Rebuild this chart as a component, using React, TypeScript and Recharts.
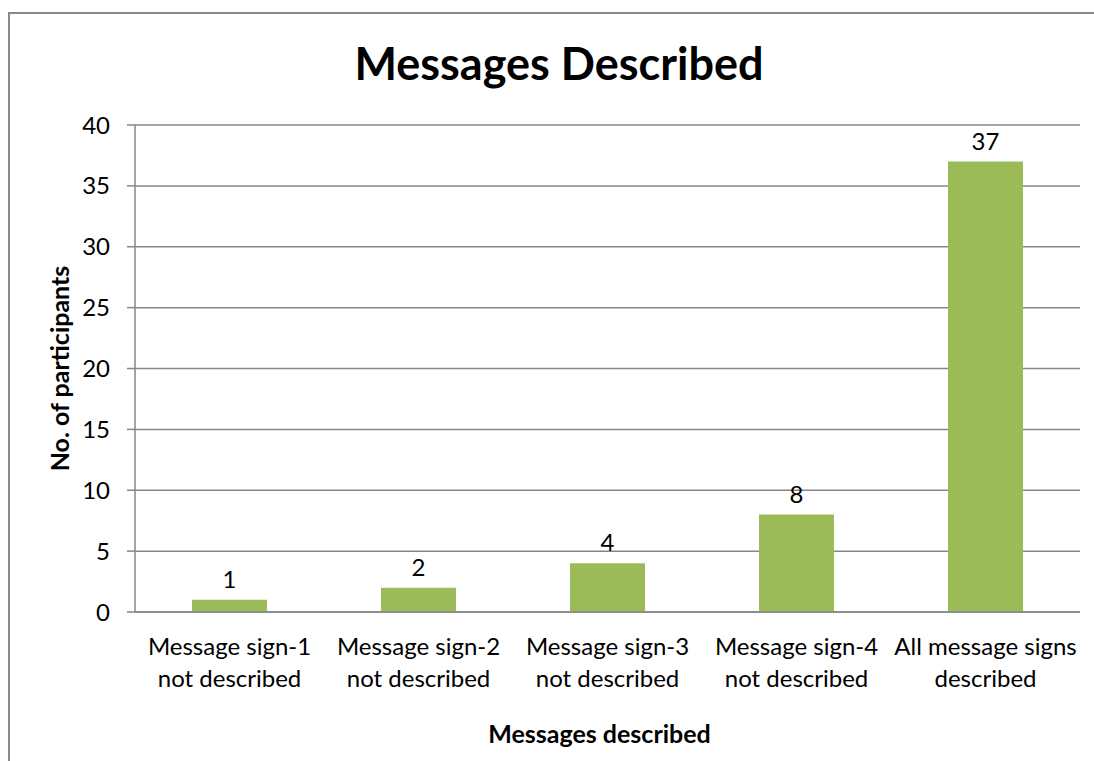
import { Bar, BarChart, CartesianGrid, LabelList, XAxis, YAxis } from "recharts";

const categories = [
  "Message sign-1\nnot described",
  "Message sign-2\nnot described",
  "Message sign-3\nnot described",
  "Message sign-4\nnot described",
  "All message signs\ndescribed",
];
const participants = [1, 2, 4, 8, 37];
const yTicks = [0, 5, 10, 15, 20, 25, 30, 35, 40];

const data = categories.map((name, i) => ({ name, value: participants[i] }));

const FONT = "Lato, 'Open Sans', sans-serif";

function CategoryTick(props: any) {
  const { x, y, payload } = props;
  const lines = String(payload.value).split("\n");
  return (
    <g transform={`translate(${x},${y})`}>
      <text textAnchor="middle" fill="#000" fontSize={24} fontFamily={FONT}>
        {lines.map((line, i) => (
          <tspan key={i} x={0} dy={i === 0 ? 43 : 32}>
            {line}
          </tspan>
        ))}
      </text>
    </g>
  );
}

export default function App() {
  return (
    <div style={{ position: "absolute", left: 0, top: 0, width: 1094, height: 761, background: "#fff", overflow: "hidden" }}>
      <div
        style={{
          position: "absolute",
          left: 8,
          top: 12,
          width: 1200,
          height: 900,
          border: "2px solid #8a8a8a",
          boxSizing: "border-box",
        }}
      />
      <div
        style={{
          position: "absolute",
          left: 0,
          top: 33,
          width: 1118,
          textAlign: "center",
          fontFamily: FONT,
          fontWeight: 700,
          fontSize: 45,
          lineHeight: "60px",
          color: "#000",
        }}
      >
        Messages Described
      </div>
      <div style={{ position: "absolute", left: 0, top: 0 }}>
        <BarChart width={1094} height={761} data={data} margin={{ top: 125, right: 14, left: 0, bottom: 0 }}>
          <CartesianGrid vertical={false} stroke="#868686" strokeWidth={1.5} />
          <XAxis
            dataKey="name"
            height={149}
            tickSize={0}
            tickMargin={0}
            tick={<CategoryTick />}
            interval={0}
            axisLine={{ stroke: "#868686", strokeWidth: 1.5 }}
            tickLine={false}
            label={{
              value: "Messages described",
              position: "insideBottom",
              offset: 18,
              dx: -8,
              fill: "#000",
              fontSize: 25,
              fontWeight: 700,
              fontFamily: FONT,
            }}
          />
          <YAxis
            width={135}
            domain={[0, 40]}
            ticks={yTicks}
            interval={0}
            tickSize={8}
            tickMargin={17}
            tick={{ fill: "#000", fontSize: 24, fontFamily: FONT }}
            tickLine={{ stroke: "#868686", strokeWidth: 1.5 }}
            axisLine={{ stroke: "#868686", strokeWidth: 1.5 }}
            label={{
              value: "No. of participants",
              angle: -90,
              position: "center",
              dx: -7,
              fill: "#000",
              fontSize: 25,
              fontWeight: 700,
              fontFamily: FONT,
            }}
          />
          <Bar dataKey="value" fill="#9BBB59" barSize={75} isAnimationActive={false}>
            <LabelList dataKey="value" position="top" offset={12} fill="#000" fontSize={24} fontFamily={FONT} />
          </Bar>
        </BarChart>
      </div>
    </div>
  );
}
